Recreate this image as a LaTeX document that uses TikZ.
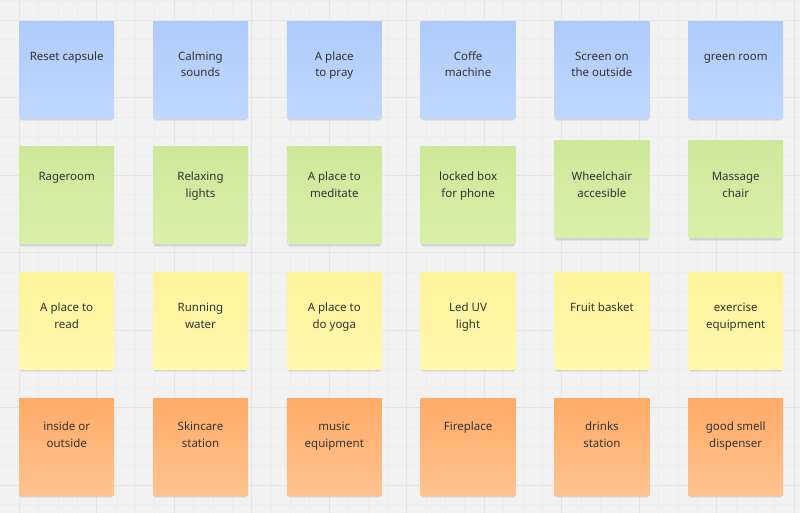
\documentclass[tikz,border=0pt]{standalone}
\usepackage{fontspec}
\setmainfont{Noto Sans}
\usepackage{tikz}
\usetikzlibrary{positioning,shadows}

\definecolor{boardbg}{HTML}{F2F2F2}
\definecolor{gridmajor}{HTML}{E5E5E5}
\definecolor{gridminor}{HTML}{EDEDED}
\definecolor{inktext}{HTML}{333333}
\definecolor{blueTop}{HTML}{AECBFA}
\definecolor{blueBot}{HTML}{BFD8FF}
\definecolor{greenTop}{HTML}{CDE89A}
\definecolor{greenBot}{HTML}{D9F0AA}
\definecolor{yellowTop}{HTML}{FDF49B}
\definecolor{yellowBot}{HTML}{FFF8AD}
\definecolor{orangeTop}{HTML}{FFAB67}
\definecolor{orangeBot}{HTML}{FFC390}

\newcommand{\firstline}{\rule{0pt}{9pt}}

\begin{document}
\begin{tikzpicture}[
    node distance=28.3pt and 38.4pt,
    note/.style={minimum width=95pt, minimum height=97pt, inner sep=0pt, anchor=north west,
        general shadow={fill=black, opacity=0.05, shadow xshift=0pt, shadow yshift=-5pt, shadow scale=0.96},
        general shadow={fill=black, opacity=0.08, shadow xshift=0pt, shadow yshift=-2.5pt, shadow scale=0.985}},
    bluenote/.style={note, top color=blueTop, bottom color=blueBot},
    greennote/.style={note, top color=greenTop, bottom color=greenBot},
    yellownote/.style={note, top color=yellowTop, bottom color=yellowBot},
    orangenote/.style={note, top color=orangeTop, bottom color=orangeBot},
    notetext/.style={inner sep=0pt, align=center, text=inktext,
        font=\fontsize{11.5pt}{16.7pt}\selectfont}
]
% board with grid
\useasboundingbox (0,0) rectangle (800pt,-513pt);
\fill[boardbg] (0,0) rectangle (800pt,-513pt);
\begin{scope}[shift={(19pt,-20pt)}]
\draw[gridminor, line width=0.5pt, step=19.375pt] (-19pt,20pt) grid (781pt,-493pt);
\draw[gridmajor, line width=0.8pt, step=77.5pt] (-19pt,20pt) grid (781pt,-493pt);
\end{scope}

% row 1
\node[bluenote] (capsule) at (19pt,-21pt) {};
\node[bluenote, right=of capsule] (sounds) {};
\node[bluenote, right=of sounds] (pray) {};
\node[bluenote, right=of pray] (coffe) {};
\node[bluenote, right=of coffe] (screen) {};
\node[bluenote, right=of screen] (greenroom) {};
% row 2
\node[greennote, below=of capsule] (rage) {};
\node[greennote, below=of sounds] (lights) {};
\node[greennote, below=of pray] (meditate) {};
\node[greennote, below=of coffe] (lockbox) {};
\node[greennote, below=22.3pt of screen] (wheelchair) {};
\node[greennote, below=22.3pt of greenroom] (massage) {};
% row 3
\node[yellownote, below=of rage] (read) {};
\node[yellownote, below=of lights] (water) {};
\node[yellownote, below=of meditate] (yoga) {};
\node[yellownote, below=of lockbox] (uvlight) {};
\node[yellownote, below=34.3pt of wheelchair] (fruit) {};
\node[yellownote, below=34.3pt of massage] (exercise) {};
% row 4
\node[orangenote, below=of read] (inout) {};
\node[orangenote, below=of water] (skincare) {};
\node[orangenote, below=of yoga] (music) {};
\node[orangenote, below=of uvlight] (fireplace) {};
\node[orangenote, below=of fruit] (drinks) {};
\node[orangenote, below=of exercise] (smell) {};

% texts
\node[notetext, below=30pt of capsule.north] (capsuleTxt) {\firstline Reset capsule};
\node[notetext, below=30pt of sounds.north] (soundsTxt) {\firstline Calming\\sounds};
\node[notetext, below=30pt of pray.north] (prayTxt) {\firstline A place\\to pray};
\node[notetext, below=30pt of coffe.north] (coffeTxt) {\firstline Coffe\\machine};
\node[notetext, below=30pt of screen.north] (screenTxt) {\firstline Screen on\\the outside};
\node[notetext, below=30pt of greenroom.north] (greenroomTxt) {\firstline green room};
\node[notetext, below=25pt of rage.north] (rageTxt) {\firstline Rageroom};
\node[notetext, below=25pt of lights.north] (lightsTxt) {\firstline Relaxing\\lights};
\node[notetext, below=25pt of meditate.north] (meditateTxt) {\firstline A place to\\meditate};
\node[notetext, below=25pt of lockbox.north] (lockboxTxt) {\firstline locked box\\for phone};
\node[notetext, below=31pt of wheelchair.north] (wheelchairTxt) {\firstline Wheelchair\\accesible};
\node[notetext, below=31pt of massage.north] (massageTxt) {\firstline Massage\\chair};
\node[notetext, below=30pt of read.north] (readTxt) {\firstline A place to\\read};
\node[notetext, below=30pt of water.north] (waterTxt) {\firstline Running\\water};
\node[notetext, below=30pt of yoga.north] (yogaTxt) {\firstline A place to\\do yoga};
\node[notetext, below=30pt of uvlight.north] (uvlightTxt) {\firstline Led UV\\light};
\node[notetext, below=30pt of fruit.north] (fruitTxt) {\firstline Fruit basket};
\node[notetext, below=30pt of exercise.north] (exerciseTxt) {\firstline exercise\\equipment};
\node[notetext, below=23pt of inout.north] (inoutTxt) {\firstline inside or\\outside};
\node[notetext, below=23pt of skincare.north] (skincareTxt) {\firstline Skincare\\station};
\node[notetext, below=23pt of music.north] (musicTxt) {\firstline music\\equipment};
\node[notetext, below=23pt of fireplace.north] (fireplaceTxt) {\firstline Fireplace};
\node[notetext, below=23pt of drinks.north] (drinksTxt) {\firstline drinks\\station};
\node[notetext, below=23pt of smell.north] (smellTxt) {\firstline good smell\\dispenser};
\end{tikzpicture}
\end{document}
